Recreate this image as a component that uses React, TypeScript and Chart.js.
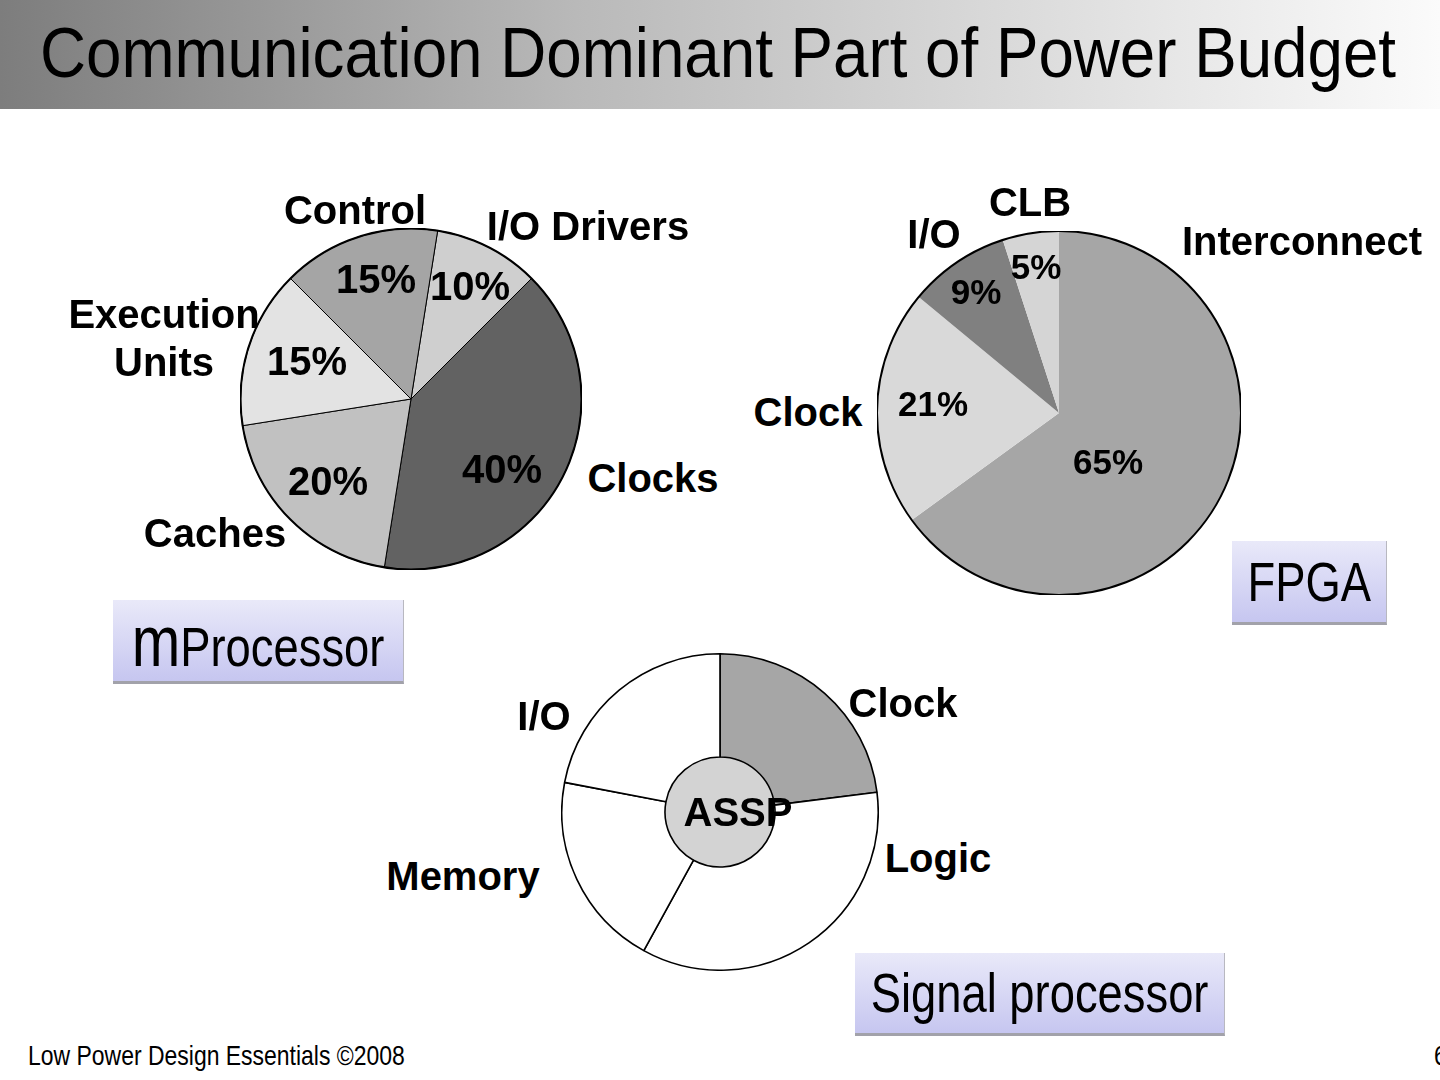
import React, { useEffect, useRef } from "react";
import { Chart, registerables } from "chart.js";

Chart.register(...registerables);

// ---------- data ----------
const titleText = "Communication Dominant Part of Power Budget";
const footerText = "Low Power Design Essentials ©2008";
const pageNumber = "6";

const procLabels = ["I/O Drivers", "Clocks", "Caches", "Execution Units", "Control"];
const procValues = [10, 40, 20, 15, 15];
const procName = ["m", "Processor"];

const fpgaLabels = ["Interconnect", "Clock", "I/O", "CLB"];
const fpgaValues = [65, 21, 9, 5];
const fpgaName = "FPGA";

const dspLabels = ["Clock", "Logic", "Memory", "I/O"];
const dspValues = [23, 35, 20, 22];
const dspCoreLabels = ["ASSP"];
const dspCoreValues = [100];
const dspName = "Signal processor";

// ---------- styles / layout ----------
const procColors = ["#cfcfcf", "#626262", "#c1c1c1", "#e3e3e3", "#a5a5a5"];
const fpgaColors = ["#a6a6a6", "#d9d9d9", "#808080", "#d5d5d5"];
const dspColors = ["#a6a6a6", "#ffffff", "#ffffff", "#ffffff"];
const dspCoreColors = ["#d3d3d3"];

const procLabelPos: [number, number][] = [[588, 226], [653, 478], [215, 533], [164, 338], [355, 210]];
const procPctPos: [number, number][] = [[470, 286], [502, 469], [328, 481], [307, 361], [376, 279]];
const fpgaLabelPos: [number, number][] = [[1302, 241], [808, 412], [934, 234], [1030, 202]];
const fpgaPctPos: [number, number][] = [[1108, 461], [933, 403], [976, 291], [1036, 266]];
const dspLabelPos: [number, number][] = [[903, 703], [938, 858], [463, 876], [544, 716]];
const dspCorePos: [number, number] = [738, 812];

const FONT = '"Liberation Sans", Arial, Helvetica, sans-serif';

function outerRing(width: number) {
  return {
    id: "outerRing",
    afterDatasetsDraw(chart: any) {
      const meta = chart.getDatasetMeta(0);
      const arc = meta && meta.data && meta.data[0];
      if (!arc) return;
      const { x, y, outerRadius } = arc.getProps(["x", "y", "outerRadius"], true);
      const ctx = chart.ctx;
      ctx.save();
      ctx.beginPath();
      ctx.arc(x, y, outerRadius, 0, Math.PI * 2);
      ctx.lineWidth = width;
      ctx.strokeStyle = "#000";
      ctx.stroke();
      ctx.restore();
    },
  };
}

type PieProps = {
  left: number;
  top: number;
  size: number;
  labels: string[];
  datasets: any[];
  rotation?: number;
  ring?: number;
};

function PieChart({ left, top, size, labels, datasets, rotation = 0, ring = 0 }: PieProps) {
  const ref = useRef<HTMLCanvasElement | null>(null);
  useEffect(() => {
    if (!ref.current) return;
    const plugins: any[] = [];
    if (ring > 0) plugins.push(outerRing(ring));
    const chart = new Chart(ref.current, {
      type: "pie",
      data: { labels, datasets },
      options: {
        responsive: false,
        animation: false,
        events: [],
        rotation,
        layout: { padding: 0 },
        plugins: { legend: { display: false }, tooltip: { enabled: false } },
      },
      plugins,
    } as any);
    return () => chart.destroy();
  }, []);
  return (
    <canvas
      ref={ref}
      width={size}
      height={size}
      style={{ position: "absolute", left, top, width: size, height: size, display: "block" }}
    />
  );
}

function Label({ x, y, text, size = 40, bold = true, lines = false }: { x: number; y: number; text: string; size?: number; bold?: boolean; lines?: boolean }) {
  return (
    <div
      style={{
        position: "absolute",
        left: x,
        top: y,
        transform: "translate(-50%, -50%)",
        fontFamily: FONT,
        fontSize: size,
        fontWeight: bold ? 700 : 400,
        lineHeight: lines ? "48px" : 1,
        whiteSpace: lines ? "pre" : "nowrap",
        textAlign: "center",
        color: "#000",
      }}
    >
      {lines ? text.split(" ").join("\n") : text}
    </div>
  );
}

function NameBox({ left, top, width, height, children }: { left: number; top: number; width: number; height: number; children: React.ReactNode }) {
  return (
    <div
      style={{
        position: "absolute",
        left,
        top,
        width,
        height: height - 3,
        background: "linear-gradient(to bottom, #e9e9f9 0%, #c6c6f0 100%)",
        borderBottom: "3px solid #a2a2aa",
        borderRight: "1px solid #b8b8c0",
        display: "flex",
        alignItems: "center",
        justifyContent: "center",
        overflow: "visible",
      }}
    >
      <span
        style={{
          display: "inline-block",
          transform: "scaleX(0.81)",
          fontFamily: FONT,
          fontSize: 56,
          lineHeight: 1,
          whiteSpace: "nowrap",
          color: "#000",
        }}
      >
        {children}
      </span>
    </div>
  );
}

export default function App() {
  useEffect(() => {
    document.body.style.margin = "0";
  }, []);

  const procDatasets = [
    {
      data: procValues,
      backgroundColor: procColors,
      borderColor: "#000",
      borderWidth: 1,
    },
  ];
  const fpgaDatasets = [
    {
      data: fpgaValues,
      backgroundColor: fpgaColors,
      borderWidth: 0,
    },
  ];
  const dspDatasets = [
    {
      label: "Blocks",
      data: dspValues,
      backgroundColor: dspColors,
      borderColor: "#000",
      borderWidth: 1.6,
      weight: 103.2,
    },
    {
      label: dspCoreLabels[0],
      data: dspCoreValues,
      backgroundColor: dspCoreColors,
      borderColor: "#000",
      borderWidth: 0,
      weight: 55,
    },
  ];

  return (
    <div
      style={{
        position: "absolute",
        left: 0,
        top: 0,
        width: 1440,
        height: 1080,
        overflow: "hidden",
        background: "#fff",
        fontFamily: FONT,
      }}
    >
      {/* title banner */}
      <div
        style={{
          position: "absolute",
          left: 0,
          top: 0,
          width: 1440,
          height: 109,
          background: "linear-gradient(to right, #7d7d7d 0%, #b9b9b9 40%, #fbfbfb 100%)",
        }}
      />
      <div
        style={{
          position: "absolute",
          left: 40,
          top: 53,
          transform: "translateY(-50%) scaleX(0.91)",
          transformOrigin: "left center",
          fontFamily: FONT,
          fontSize: 70,
          lineHeight: 1,
          whiteSpace: "nowrap",
          color: "#000",
        }}
      >
        {titleText}
      </div>

      {/* mProcessor pie */}
      <PieChart left={240} top={228} size={342} labels={procLabels} datasets={procDatasets} rotation={9} ring={2} />
      {procLabels.map((l, i) => (
        <Label key={"pl" + i} x={procLabelPos[i][0]} y={procLabelPos[i][1]} text={l} lines={l.startsWith("Execution")} />
      ))}
      {procValues.map((v, i) => (
        <Label key={"pp" + i} x={procPctPos[i][0]} y={procPctPos[i][1]} text={v + "%"} />
      ))}
      <NameBox left={113} top={600} width={290} height={84}>
        <span style={{ fontSize: 72 }}>{procName[0]}</span>
        {procName[1]}
      </NameBox>

      {/* FPGA pie */}
      <PieChart left={877} top={231} size={364} labels={fpgaLabels} datasets={fpgaDatasets} rotation={0} ring={2} />
      {fpgaLabels.map((l, i) => (
        <Label key={"fl" + i} x={fpgaLabelPos[i][0]} y={fpgaLabelPos[i][1]} text={l} />
      ))}
      {fpgaValues.map((v, i) => (
        <Label key={"fp" + i} x={fpgaPctPos[i][0]} y={fpgaPctPos[i][1]} text={v + "%"} size={35} />
      ))}
      <NameBox left={1232} top={541} width={154} height={84}>
        {fpgaName}
      </NameBox>

      {/* Signal processor pie */}
      <PieChart left={561} top={653} size={318} labels={dspLabels} datasets={dspDatasets} rotation={0} />
      {dspLabels.map((l, i) => (
        <Label key={"dl" + i} x={dspLabelPos[i][0]} y={dspLabelPos[i][1]} text={l} />
      ))}
      <Label x={dspCorePos[0]} y={dspCorePos[1]} text={dspCoreLabels[0]} />
      <NameBox left={855} top={953} width={369} height={83}>
        {dspName}
      </NameBox>

      {/* footer */}
      <div
        style={{
          position: "absolute",
          left: 28,
          top: 1056,
          transform: "translateY(-50%) scaleX(0.82)",
          transformOrigin: "left center",
          fontFamily: FONT,
          fontSize: 28,
          lineHeight: 1,
          whiteSpace: "nowrap",
          color: "#000",
        }}
      >
        {footerText}
      </div>
      <div
        style={{
          position: "absolute",
          left: 1434,
          top: 1056,
          transform: "translateY(-50%) scaleX(0.82)",
          transformOrigin: "left center",
          fontFamily: FONT,
          fontSize: 28,
          lineHeight: 1,
          whiteSpace: "nowrap",
          color: "#000",
        }}
      >
        {pageNumber}
      </div>
    </div>
  );
}
